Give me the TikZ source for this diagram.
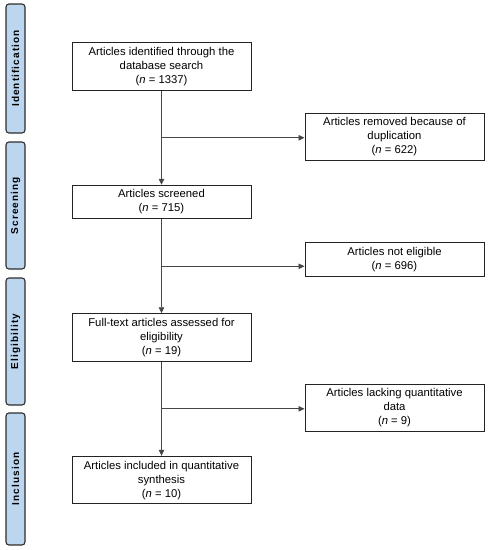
\documentclass[tikz,border=0pt]{standalone}
\usepackage{fontspec}
\setmainfont{Liberation Sans}
\newfontfamily\phasefamily[LetterSpace=11]{Liberation Sans}
\usepackage{xcolor}
\usetikzlibrary{arrows.meta,positioning,calc}
\definecolor{phaseblue}{RGB}{188,214,239}
\definecolor{phaseline}{RGB}{45,45,45}
\definecolor{boxline}{RGB}{35,35,35}
\definecolor{arrgray}{RGB}{70,70,70}
\tikzset{
  box/.style={rectangle, draw=boxline, line width=1pt,
    minimum width=179pt, inner ysep=4.5pt, align=center,
    font=\fontsize{11.3}{14}\selectfont},
  phase/.style={rectangle, rounded corners=3pt,
    draw=phaseline, fill=phaseblue, line width=1.1pt,
    rotate=90, minimum height=19pt, inner sep=0pt,
    font=\phasefamily\bfseries\fontsize{10}{12}\selectfont},
  arr/.style={-{Triangle[length=6pt,width=5.5pt]}, line width=0.8pt, color=arrgray}
}

\begin{document}
\begin{tikzpicture}[x=1pt, y=-1pt, node distance=94pt and 53pt]
\useasboundingbox (0,0) rectangle (488,550);

%% ── PHASES (left bar) ──────────────────────────────────────────────
\node[phase, minimum width=129pt] (phid)  at (15.5,68.5)  {Identification};
\node[phase, minimum width=127pt] (phscr) at (15.5,205.5) {Screening};
\node[phase, minimum width=127pt] (phel)  at (15.5,341.5) {Eligibility};
\node[phase, minimum width=132pt] (phinc) at (15.5,479)   {Inclusion};

%% ── MAIN COLUMN ────────────────────────────────────────────────────
\node[box] (id) at (161.5,66.5)
  {Articles identified through the\\database search\\(\textit{n} = 1337)};
\node[box, below=of id]   (scr)  {Articles screened\\(\textit{n} = 715)};
\node[box, below=of scr]  (elig) {Full-text articles assessed for\\eligibility\\(\textit{n} = 19)};
\node[box, below=of elig] (inc)  {Articles included in quantitative\\synthesis\\(\textit{n} = 10)};

%% branch points
\coordinate (b1) at ($(id.south)!0.5!(scr.north)$);
\coordinate (b2) at ($(scr.south)!0.5!(elig.north)$);
\coordinate (b3) at ($(elig.south)!0.5!(inc.north)$);

%% ── EXCLUDED (right column) ────────────────────────────────────────
\node[box, anchor=west] (rem)  at ($(b1 -| id.east)+(53,-1)$)
  {Articles removed because of\\duplication\\(\textit{n} = 622)};
\node[box, anchor=west] (nel)  at ($(b2 -| id.east)+(53,-7)$)
  {Articles not eligible\\(\textit{n} = 696)};
\node[box, anchor=west] (lack) at ($(b3 -| id.east)+(53,-1)$)
  {Articles lacking quantitative\\data\\(\textit{n} = 9)};

%% ── ARROWS ─────────────────────────────────────────────────────────
\draw[arr] (id)--(scr);
\draw[arr] (scr)--(elig);
\draw[arr] (elig)--(inc);

\draw[arr] (b1) -- (b1 -| rem.west);
\draw[arr] (b2) -- (b2 -| nel.west);
\draw[arr] (b3) -- (b3 -| lack.west);

\end{tikzpicture}
\end{document}
